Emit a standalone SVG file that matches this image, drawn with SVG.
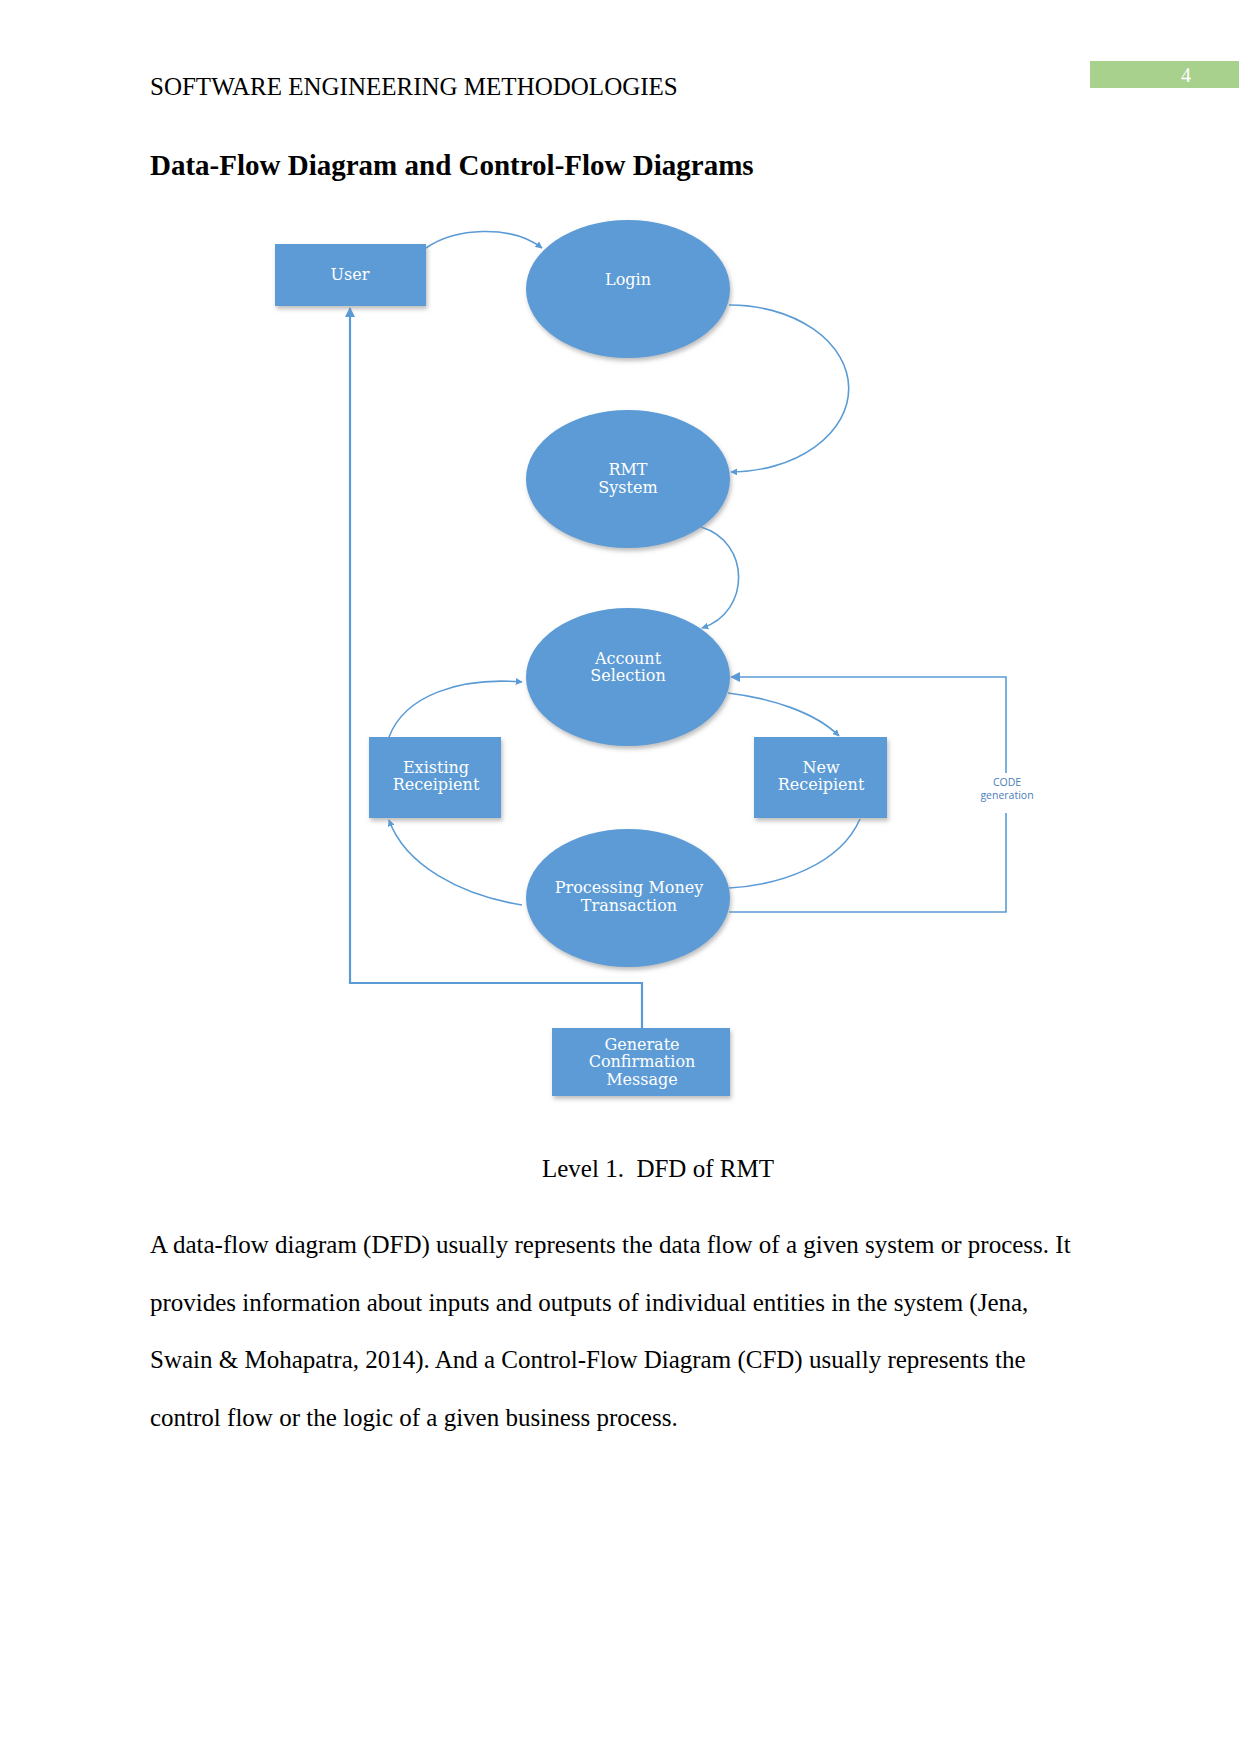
<svg xmlns="http://www.w3.org/2000/svg" width="1241" height="1754" viewBox="0 0 1241 1754">
<style>
.pg{font-family:"Liberation Serif","Times New Roman",serif;fill:#000}
.hd{font-size:25px}
.ttl{font-size:29px;font-weight:bold}
.body{font-size:25px}
.shape{fill:#5b9bd5;filter:url(#sh)}
.lbl{font-family:"DejaVu Serif",serif;font-size:16px;fill:#fff;text-anchor:middle}
.con{fill:none;stroke:#5b9bd5;stroke-width:1.6}
.conT{fill:none;stroke:#5b9bd5;stroke-width:2.2}
.code{font-family:"Open Sans","Liberation Sans",Arial,sans-serif;font-size:10.5px;fill:#4a7ebb;text-anchor:middle}
</style>
<defs>
<filter id="sh" x="-20%" y="-20%" width="140%" height="150%">
<feDropShadow dx="1.5" dy="3" stdDeviation="2.2" flood-color="#888" flood-opacity="0.55"/>
</filter>
<marker id="ah" viewBox="0 0 10 10" refX="9" refY="5" markerWidth="7" markerHeight="7" markerUnits="userSpaceOnUse" orient="auto">
<path d="M0,0 L10,5 L0,10 z" fill="#5b9bd5"/>
</marker>
<marker id="ahL" viewBox="0 0 10 10" refX="9" refY="5" markerWidth="10" markerHeight="10" markerUnits="userSpaceOnUse" orient="auto">
<path d="M0,0 L10,5 L0,10 z" fill="#5b9bd5"/>
</marker>
</defs>
<rect width="1241" height="1754" fill="#fff"/>

<!-- page header -->
<rect x="1090" y="61" width="149" height="27" fill="#a9d18e"/>
<text x="1186" y="82" font-family="Liberation Serif, serif" font-size="20" fill="#fff" text-anchor="middle">4</text>
<text class="pg hd" x="150" y="95">SOFTWARE ENGINEERING METHODOLOGIES</text>
<text class="pg ttl" x="150" y="175">Data-Flow Diagram and Control-Flow Diagrams</text>

<!-- connectors -->
<g id="connectors">
<path class="con" d="M426,248 C455,228 510,224 542,248" marker-end="url(#ah)"/>
<path class="con" d="M729,305 A118 83 0 0 1 731,472" marker-end="url(#ah)"/>
<path class="con" d="M701,527 C751,542 751,612 702,628" marker-end="url(#ah)"/>
<path class="con" d="M728,693 C770,698 815,712 839,736" marker-end="url(#ah)"/>
<path class="con" d="M389,737 C405,695 460,677 522,682" marker-end="url(#ah)"/>
<path class="con" d="M522,905 C460,895 405,865 389,820" marker-end="url(#ah)"/>
<path class="con" d="M860,819 C840,865 780,885 729,888"/>
<path class="con" d="M729,912 H1006 V813"/>
<path class="con" d="M1006,773 V677 H731" marker-end="url(#ahL)"/>
<path class="conT" d="M642,1028 V983 H350 V308" marker-end="url(#ahL)"/>
<text class="code" x="1007" y="786">CODE</text>
<text class="code" x="1007" y="799">generation</text>
</g>

<!-- nodes -->
<g id="user">
<rect class="shape" x="275" y="244" width="151" height="62"/>
<text class="lbl" x="350" y="280">User</text>
</g>
<g id="login">
<ellipse class="shape" cx="628" cy="289" rx="102" ry="69"/>
<text class="lbl" x="628" y="285">Login</text>
</g>
<g id="rmt">
<ellipse class="shape" cx="628" cy="479" rx="102" ry="69"/>
<text class="lbl" x="628" y="475">RMT</text>
<text class="lbl" x="628" y="493">System</text>
</g>
<g id="account">
<ellipse class="shape" cx="628" cy="677" rx="102" ry="69"/>
<text class="lbl" x="628" y="664">Account</text>
<text class="lbl" x="628" y="681">Selection</text>
</g>
<g id="existing">
<rect class="shape" x="369" y="737" width="132" height="81"/>
<text class="lbl" x="436" y="773">Existing</text>
<text class="lbl" x="436" y="790">Receipient</text>
</g>
<g id="new">
<rect class="shape" x="754" y="737" width="133" height="81"/>
<text class="lbl" x="821" y="773">New</text>
<text class="lbl" x="821" y="790">Receipient</text>
</g>
<g id="processing">
<ellipse class="shape" cx="628" cy="898" rx="102" ry="69"/>
<text class="lbl" x="629" y="893">Processing Money</text>
<text class="lbl" x="629" y="911">Transaction</text>
</g>
<g id="generate">
<rect class="shape" x="552" y="1028" width="178" height="68"/>
<text class="lbl" x="642" y="1050">Generate</text>
<text class="lbl" x="642" y="1067">Confirmation</text>
<text class="lbl" x="642" y="1085">Message</text>
</g>

<!-- caption and body -->
<text class="pg body" x="542" y="1177" xml:space="preserve">Level 1.  DFD of RMT</text>
<text class="pg body" x="150" y="1253">A data-flow diagram (DFD) usually represents the data flow of a given system or process. It</text>
<text class="pg body" x="150" y="1311">provides information about inputs and outputs of individual entities in the system (Jena,</text>
<text class="pg body" x="150" y="1368">Swain &amp; Mohapatra, 2014). And a Control-Flow Diagram (CFD) usually represents the</text>
<text class="pg body" x="150" y="1426">control flow or the logic of a given business process.</text>
</svg>
